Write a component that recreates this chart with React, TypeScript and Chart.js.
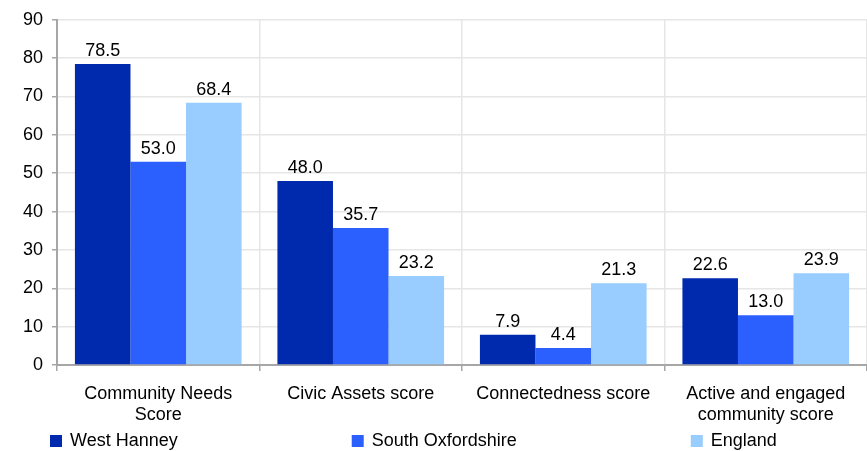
import React, { useEffect, useRef } from "react";
import { Chart, registerables } from "chart.js";

Chart.register(...registerables);

const categories: (string | string[])[] = [
  ["Community Needs", "Score"],
  "Civic Assets score",
  "Connectedness score",
  ["Active and engaged", "community score"],
];
const westHanney = [78.5, 48.0, 7.9, 22.6];
const southOxfordshire = [53.0, 35.7, 4.4, 13.0];
const england = [68.4, 23.2, 21.3, 23.9];
const seriesNames = ["West Hanney", "South Oxfordshire", "England"];
const seriesColors = ["#002AAE", "#2B60FF", "#99CCFF"];

const FONT = '"Liberation Sans", Arial, sans-serif';
const FS = 18;

const dataLabelPlugin = {
  id: "dataLabels",
  afterDatasetsDraw(chart: any) {
    const ctx = chart.ctx;
    ctx.save();
    ctx.font = `${FS}px ${FONT}`;
    ctx.fillStyle = "#000";
    ctx.textAlign = "center";
    ctx.textBaseline = "alphabetic";
    chart.data.datasets.forEach((ds: any, di: number) => {
      const meta = chart.getDatasetMeta(di);
      meta.data.forEach((el: any, i: number) => {
        ctx.fillText(Number(ds.data[i]).toFixed(1), el.x, el.y - 8);
      });
    });
    ctx.restore();
  },
};

const legendPlugin = {
  id: "customLegend",
  afterDraw(chart: any) {
    const ctx = chart.ctx;
    ctx.save();
    ctx.font = `${FS}px ${FONT}`;
    ctx.textBaseline = "middle";
    ctx.textAlign = "left";
    const yc = 441;
    const box = 12;
    let x = 50;
    chart.data.datasets.forEach((ds: any) => {
      ctx.fillStyle = ds.backgroundColor;
      ctx.fillRect(x, yc - box / 2, box, box);
      ctx.fillStyle = "#000";
      const tx = x + box + 8;
      ctx.fillText(ds.label, tx, yc);
      const w = ctx.measureText(ds.label).width;
      x = tx + w + 174;
    });
    ctx.restore();
  },
};

export default function App() {
  const ref = useRef<HTMLCanvasElement>(null);
  useEffect(() => {
    if (!ref.current) return;
    const chart = new Chart(ref.current, {
      type: "bar",
      data: {
        labels: categories as any,
        datasets: [westHanney, southOxfordshire, england].map((d, i) => ({
          label: seriesNames[i],
          data: d,
          backgroundColor: seriesColors[i],
          borderWidth: 0,
          categoryPercentage: 0.823,
          barPercentage: 1,
        })),
      },
      options: {
        animation: false,
        responsive: false,
        devicePixelRatio: 1,
        layout: { padding: { top: 17, bottom: 26, left: 0, right: 0 } },
        plugins: {
          legend: { display: false },
          tooltip: { enabled: false },
        },
        scales: {
          x: {
            afterFit: (s: any) => {
              s.height = 60;
            },
            grid: {
              offset: true,
              color: "#e6e6e6",
              tickColor: "#a6a6a6",
              tickLength: 6,
              lineWidth: 1.5,
            },
            border: { display: true, color: "#a6a6a6", width: 2 },
            ticks: {
              color: "#000",
              font: { family: FONT, size: FS, lineHeight: 1.15 },
              padding: 13,
              maxRotation: 0,
              autoSkip: false,
            },
          },
          y: {
            min: 0,
            max: 90,
            afterFit: (s: any) => {
              s.width = 57;
            },
            grid: {
              color: "#e6e6e6",
              tickColor: "#a6a6a6",
              tickLength: 5,
              lineWidth: 1.5,
            },
            border: { display: true, color: "#a6a6a6", width: 2 },
            ticks: {
              stepSize: 10,
              color: "#000",
              font: { family: FONT, size: FS },
              padding: 9,
            },
          },
        },
      },
      plugins: [dataLabelPlugin, legendPlugin],
    });
    return () => chart.destroy();
  }, []);
  return (
    <div style={{ position: "fixed", left: 0, top: 0, width: 867, height: 451, background: "#fff" }}>
      <canvas ref={ref} width={867} height={451} />
    </div>
  );
}
